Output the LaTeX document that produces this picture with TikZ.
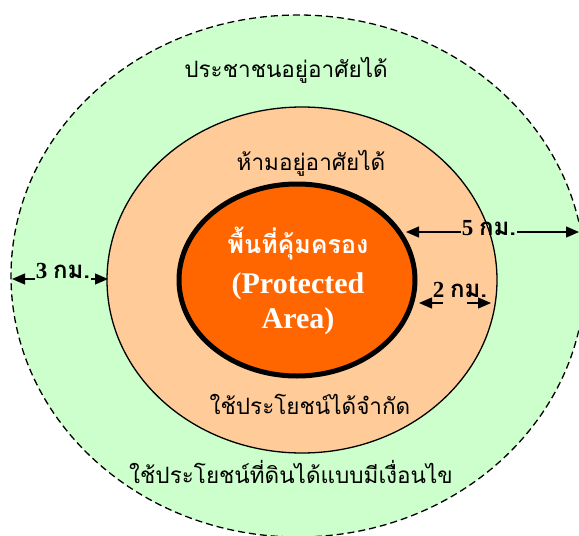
\documentclass[tikz,border=0pt]{standalone}
\usepackage{fontspec}
\setmainfont{Liberation Serif}
\newfontfamily\thai[Script=Thai]{Loma}
\usetikzlibrary{arrows.meta}
\definecolor{zonegreen}{HTML}{CCFFCC}
\definecolor{zonepeach}{HTML}{FFCC99}
\definecolor{zoneorange}{HTML}{FF6600}
\newcommand{\kmunit}{{\thai\fontsize{24}{26}\selectfont กม.}}
\tikzset{
  zonetext/.style={font=\thai\fontsize{22.5}{25}\selectfont, inner sep=0pt},
  dimlabel/.style={font=\bfseries\fontsize{23}{24}\selectfont, inner sep=1pt},
  dimline/.style={line width=1.3pt, -{Triangle[length=13pt,width=11pt]}},
}
\begin{document}
\begin{tikzpicture}[x=1pt,y=-1pt]
\useasboundingbox (0,0) rectangle (579,536);
% zones
\draw[fill=zonegreen, line width=1.3pt, dash pattern=on 7pt off 4pt] (298,276) ellipse [x radius=287, y radius=261];
\draw[fill=zonepeach, line width=1.3pt] (302,280) ellipse [x radius=195, y radius=173];
\draw[fill=zoneorange, line width=5pt] (297,280) ellipse [x radius=118, y radius=96];
% texts
\node[zonetext] (t1) at (286,70) {ประชาชนอยู่อาศัยได้};
\node[zonetext] (t2) at (311,163) {ห้ามอยู่อาศัยได้};
\node[zonetext] (t3) at (310,404) {ใช้ประโยชน์ได้จำกัด};
\node[zonetext] (t4) at (291,472) {ใช้ประโยชน์ที่ดินได้แบบมีเงื่อนไข};
\node[font=\thai\bfseries\fontsize{25}{27}\selectfont, text=white, inner sep=0pt] (c1) at (298,244) {พื้นที่คุ้มครอง};
\node[font=\bfseries\fontsize{30}{32}\selectfont, text=white, inner sep=0pt] (c2) at (298,286) {(Protected};
\node[font=\bfseries\fontsize{30}{32}\selectfont, text=white, inner sep=0pt] (c3) at (298,321) {Area)};
% dimension arrows
\coordinate (a3l) at (12,279);
\coordinate (a3r) at (108,279);
\node[dimlabel] (l3) at (63,271) {3 \kmunit};
\draw[dimline] (l3.west |- a3l) -- (a3l);
\draw[dimline] (l3.east |- a3r) -- (a3r);
\coordinate (a5l) at (406,232);
\coordinate (a5r) at (579,232);
\node[dimlabel] (l5) at (489,228) {5 \kmunit};
\draw[dimline] (l5.west |- a5l) -- (a5l);
\draw[dimline] (l5.east |- a5r) -- (a5r);
\coordinate (a2l) at (419,303);
\coordinate (a2r) at (491,303);
\coordinate (a2ml) at (443,303);
\coordinate (a2mr) at (467,303);
\draw[dimline] (a2ml) -- (a2l);
\draw[dimline] (a2mr) -- (a2r);
\node[dimlabel] (l2) at (460,290) {2 \kmunit};
\end{tikzpicture}
\end{document}
